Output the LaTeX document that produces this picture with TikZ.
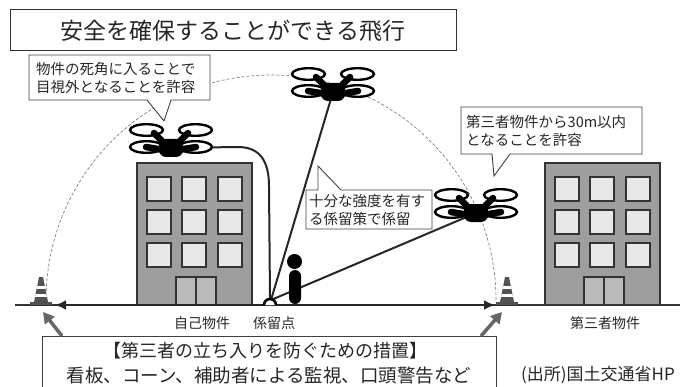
\documentclass[tikz,border=0pt]{standalone}
\usepackage{fontspec}
\setmainfont{Noto Sans CJK JP}
\usetikzlibrary{arrows.meta,calc}

\tikzset{
  rotor/.style={draw=black, fill=white, line width=2.4pt},
  arm/.style={line width=6.5pt, line cap=round, draw=black},
  tether/.style={line width=2pt, draw=black!85},
  bldg/.style={draw=black!80, fill=black!38, line width=2pt},
  win/.style={draw=black!80, fill=black!9, line width=1.8pt},
  door/.style={draw=black!80, fill=black!27, line width=1.6pt},
  callout/.style={draw=black!75, fill=white, line width=0.9pt, line join=miter},
  txt/.style={font=\fontsize{14.5}{18}\selectfont, inner sep=0pt, text=black!85},
  lbl/.style={font=\fontsize{14}{17}\selectfont, inner sep=0pt, text=black!85},
  garrow/.style={draw=black!60, line width=3.5pt, -{Triangle[length=11pt,width=12pt]}},
  drone/.pic={
    \foreach \dx in {-24.5,24.5} {
      \draw[rotor] (\dx,-1) ellipse [x radius=16.5pt, y radius=5.8pt];
      \draw[rotor] (\dx,-18) ellipse [x radius=16.5pt, y radius=5.8pt];
    }
    \draw[arm] (-5,-3) -- (-17,-15);
    \draw[arm] (5,-3) -- (17,-15);
    \draw[arm] (-7,2) -- (-25,-1);
    \draw[arm] (7,2) -- (25,-1);
    \fill[black, rounded corners=7pt] (-12,-9) rectangle (12,9);
  },
  cone/.pic={
    \fill[black!68] (-11,0) rectangle (11,-3);
    \fill[black!68] (-7,-3) -- (-2,-28) -- (2,-28) -- (7,-3) -- cycle;
    \begin{scope}
      \clip (-7,-3) -- (-2,-28) -- (2,-28) -- (7,-3) -- cycle;
      \fill[white] (-8,-8) rectangle (8,-11);
      \fill[white] (-8,-16) rectangle (8,-19);
    \end{scope}
  },
  building/.pic={
    \draw[bldg] (0,0) rectangle (115,-142);
    \foreach \cx in {10,45,81} \foreach \cy in {-128,-95,-62}
      \draw[win] (\cx,\cy) rectangle ++(24,24);
    \draw[door] (39,-28) rectangle (79,0);
    \draw[door] (59,-28) -- (59,0);
  }
}

\begin{document}
\begin{tikzpicture}[x=1pt,y=-1pt]
\useasboundingbox[fill=white] (0,0) rectangle (692,387);

% flight range
\draw[black!50, line width=0.7pt, dash pattern=on 3pt off 2pt]
  plot[domain=0:180, samples=90] ({271+225*cos(\x)}, {300-225*sin(\x)});

% buildings
\pic at (137,305) {building};
\pic at (545,305) {building};

% key positions
\coordinate (d1) at (171,148);
\coordinate (d2) at (333,92);
\coordinate (d3) at (476,213);
\coordinate (tp) at (271,300);

% tethers
\draw[tether] (d1) -- (238,147) .. controls (259,147) and (269,160) .. (269,186) -- (270,299);
\draw[tether] (d2) -- (tp);
\draw[tether] (d3) -- (tp);

% drones
\pic at (d1) {drone};
\pic at (d2) {drone};
\pic at (d3) {drone};

% person
\fill[black] (294.5,261.5) circle [radius=7.5pt];
\fill[black, rounded corners=6pt] (289,270) rectangle (301,304);

% ground and the restricted span
\draw[black!80, line width=1.6pt] (15,305) -- (680,305);
\draw[black!85, line width=2.4pt,
  {Latex[length=11pt,width=10pt]}-{Latex[length=11pt,width=10pt]}] (55,305) -- (495,305);

% tether anchor
\draw[black, line width=2.6pt, fill=white] (264,305) arc[start angle=180, end angle=0, radius=6pt];

% cones
\coordinate (cL) at (41,305);
\coordinate (cR) at (507,305);
\pic at (cL) {cone};
\pic at (cR) {cone};

% title
\node[draw=black!80, line width=1pt, minimum width=446pt, minimum height=41pt,
  inner sep=0pt, font=\fontsize{23}{26}\selectfont, text=black!85] (title) at (233,30.5)
  {安全を確保することができる飛行};

% callouts
\draw[callout] (29,55) -- (210,55) -- (210,100) -- (171,100) -- (164,121) -- (147,100) -- (29,100) -- cycle;
\node[txt, anchor=west, align=left] (c1) at (36,78) {物件の死角に入ることで\\目視外となることを許容};

\draw[callout] (306,190) -- (318,190) -- (318,166) -- (341,190) -- (432,190) -- (432,229) -- (306,229) -- cycle;
\node[txt, anchor=west, align=left] (c2) at (309,210) {十分な強度を有す\\る係留策で係留};

\draw[callout] (461,107) -- (642,107) -- (642,154) -- (510,154) -- (494,176) -- (492,154) -- (461,154) -- cycle;
\node[txt, anchor=west, align=left] (c3) at (466,131) {第三者物件から30m以内\\となることを許容};

% ground labels
\node[lbl] (own) at (202,323) {自己物件};
\node[lbl] (anchor) at (274,323) {係留点};
\node[lbl] (third) at (605,323) {第三者物件};

% measures box
\node[draw=black!75, line width=0.9pt, fill=white, minimum width=454pt, minimum height=70pt,
  anchor=north west, inner sep=0pt] (measures) at (42,336) {};
\node[font=\fontsize{18}{20}\selectfont, inner sep=0pt, text=black!85] (m1) at (265,351) {【第三者の立ち入りを防ぐための措置】};
\node[font=\fontsize{18.5}{20}\selectfont, inner sep=0pt, text=black!85] (m2) at (269,376) {看板、コーン、補助者による監視、口頭警告など};

% pointers to the cones
\coordinate (aL) at (62,336);
\coordinate (aR) at (481,336);
\draw[garrow] (aL) -- ($(cL)+(2,7)$);
\draw[garrow] (aR) -- ($(cR)+(-5,7)$);

% source
\node[font=\fontsize{17}{20}\selectfont, inner sep=0pt, text=black!85] (src) at (598,375) {(出所)国土交通省HP};
\end{tikzpicture}
\end{document}
